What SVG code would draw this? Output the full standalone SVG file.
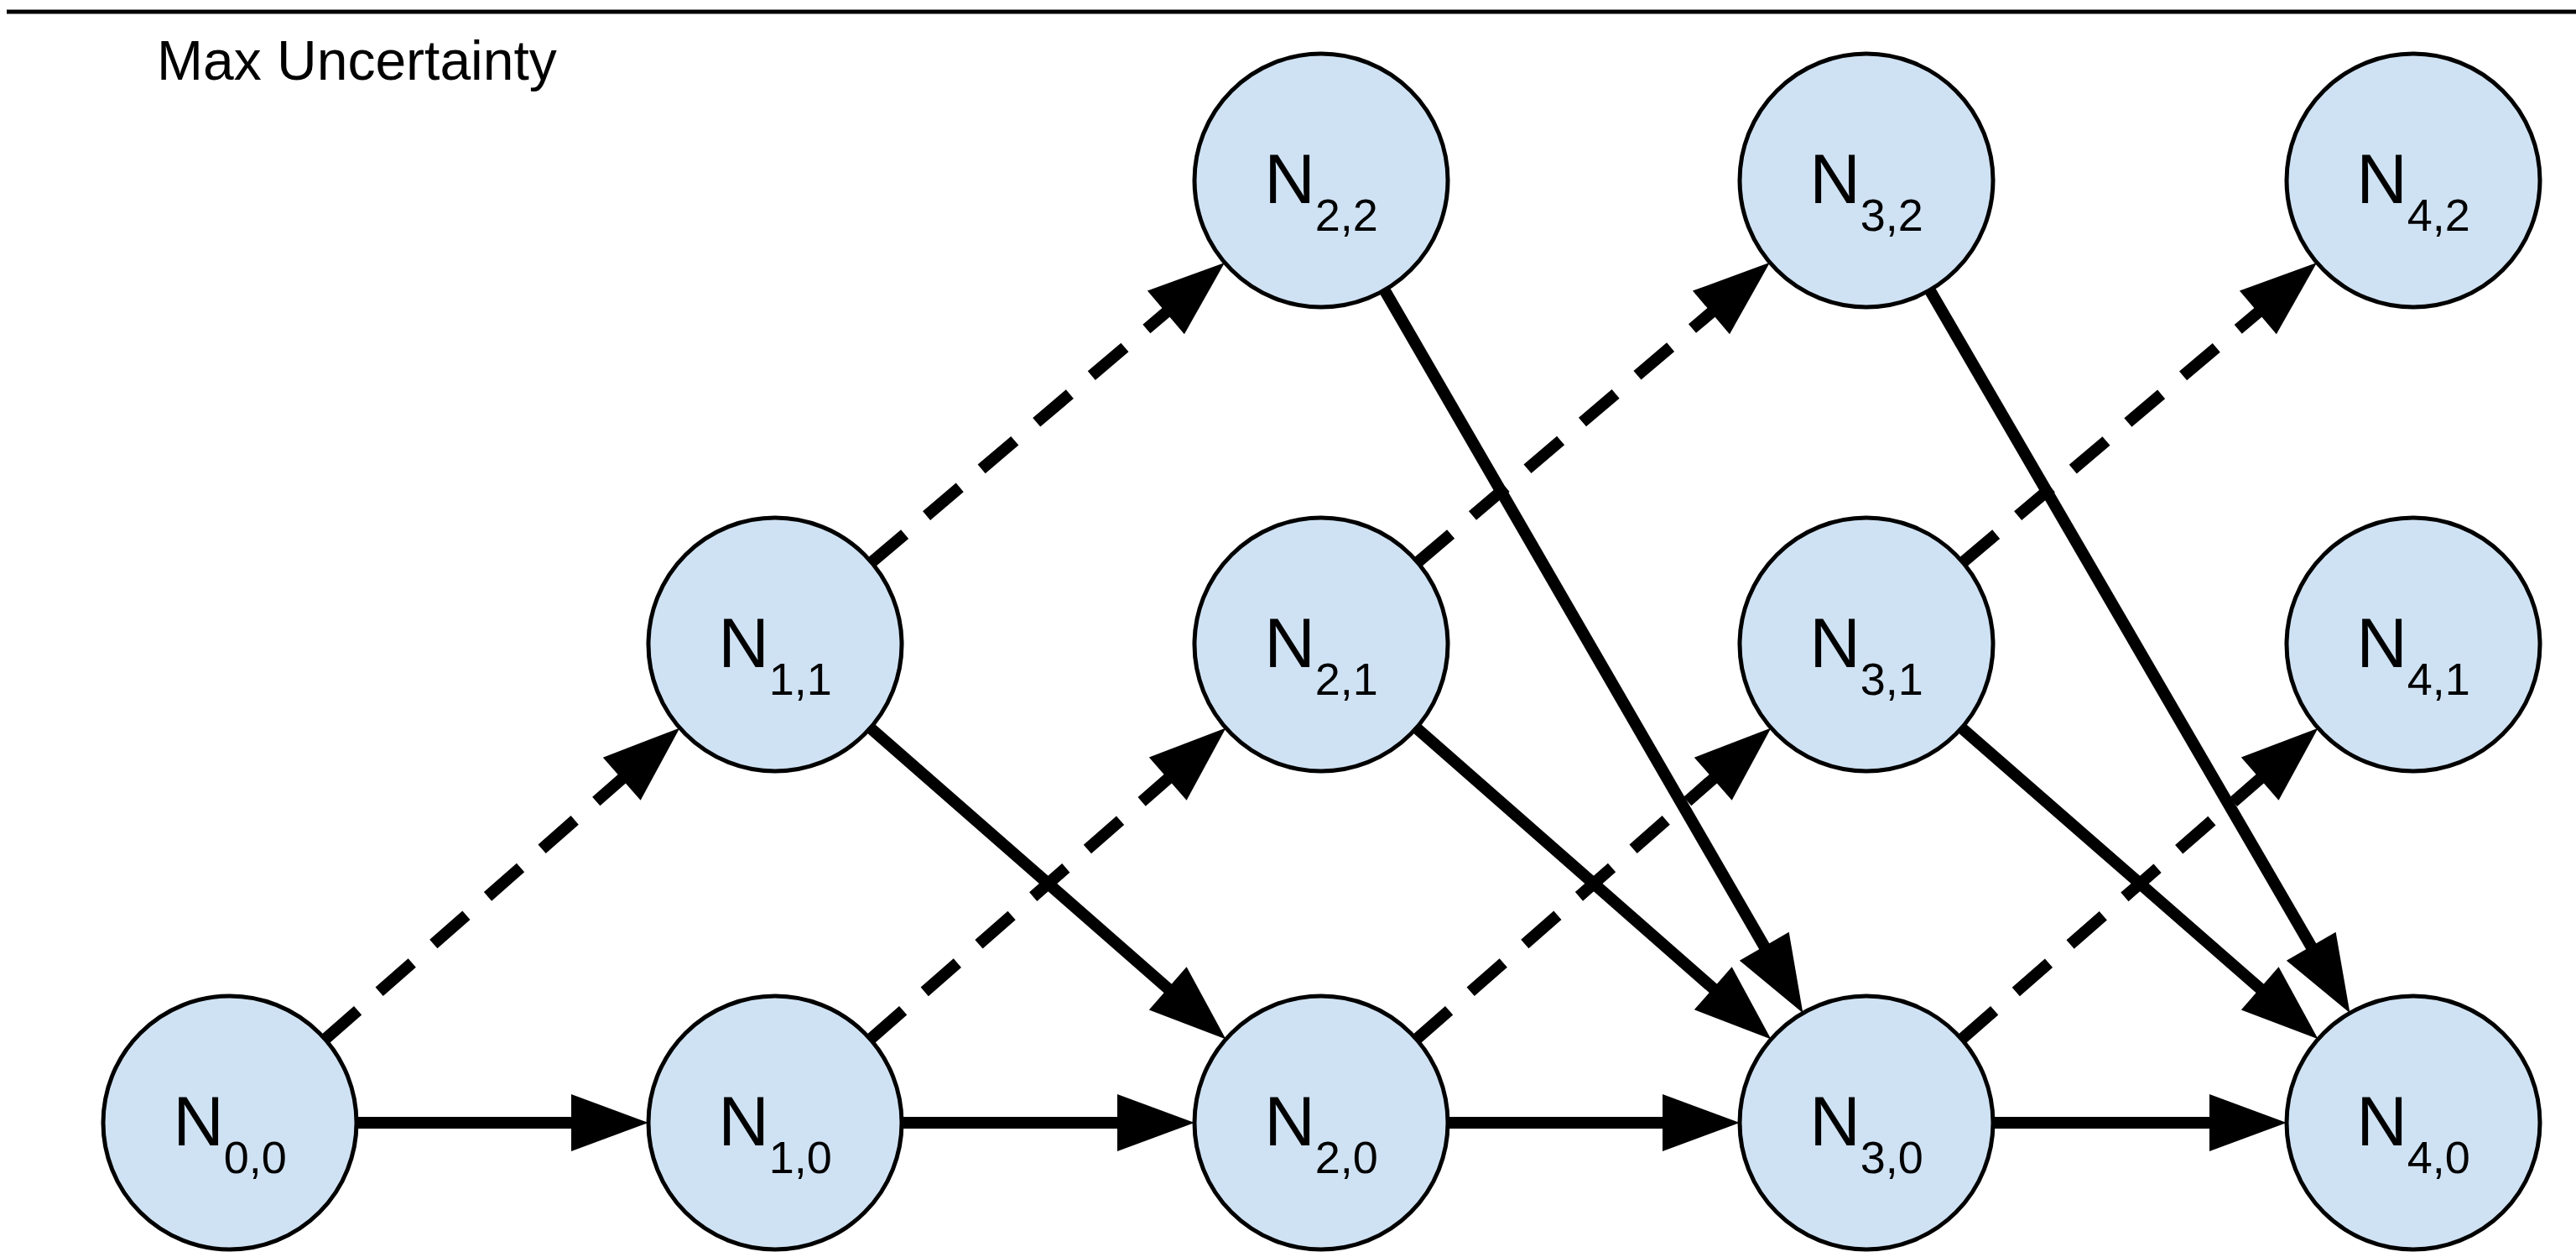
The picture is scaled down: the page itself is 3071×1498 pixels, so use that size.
<svg xmlns="http://www.w3.org/2000/svg" width="3071" height="1498" viewBox="0 0 3071 1498">
<style>
.n{fill:#cfe2f3;stroke:#000;stroke-width:5}
.t{font-family:"Liberation Sans",Arial,sans-serif;font-size:84px;fill:#000;text-anchor:middle}
.s{font-size:54px}
.e{stroke:#000;stroke-width:14;fill:none;marker-end:url(#a)}
.d{stroke-dasharray:52 34}
</style>
<defs>
<marker id="a" markerUnits="userSpaceOnUse" markerWidth="92" markerHeight="68" refX="32" refY="34" orient="auto" overflow="visible">
<path d="M0,0 L92,34 L0,68 z" fill="#000"/>
</marker>
</defs>
<rect width="3071" height="1498" fill="#fff"/>
<line x1="8" y1="14" x2="3071" y2="14" stroke="#000" stroke-width="5"/>
<text x="187" y="95" font-family="Liberation Sans,Arial,sans-serif" font-size="66">Max Uncertainty</text>
<g id="connectors">
<line class="e" x1="425" y1="1338" x2="713" y2="1338"/>
<line class="e" x1="1075" y1="1338" x2="1364" y2="1338"/>
<line class="e" x1="1726" y1="1338" x2="2014" y2="1338"/>
<line class="e" x1="2376" y1="1338" x2="2666" y2="1338"/>
<line class="e d" x1="387.5" y1="1238.5" x2="765.3" y2="907.1"/>
<line class="e d" x1="1037.5" y1="1238.5" x2="1416.3" y2="907.1"/>
<line class="e d" x1="1688.5" y1="1238.5" x2="2066.3" y2="907.1"/>
<line class="e d" x1="2338.5" y1="1238.5" x2="2718.3" y2="907.1"/>
<line class="e d" x1="1039" y1="670.2" x2="1414.3" y2="351.7"/>
<line class="e d" x1="1690" y1="670.2" x2="2064.3" y2="351.7"/>
<line class="e d" x1="2340" y1="670.2" x2="2716.3" y2="351.7"/>
<line class="e" x1="1037.5" y1="867.5" x2="1416.3" y2="1198.9"/>
<line class="e" x1="1688.5" y1="867.5" x2="2066.3" y2="1198.9"/>
<line class="e" x1="2338.5" y1="867.5" x2="2718.3" y2="1198.9"/>
<line class="e" x1="1650.6" y1="345.7" x2="2119.3" y2="1155.4"/>
<line class="e" x1="2300.6" y1="345.7" x2="2771.3" y2="1155.4"/>
</g>
<g id="n00"><circle class="n" cx="274" cy="1338" r="151"/><text class="t" x="274" y="1365">N<tspan class="s" dy="33">0,0</tspan></text></g>
<g id="n10"><circle class="n" cx="924" cy="1338" r="151"/><text class="t" x="924" y="1365">N<tspan class="s" dy="33">1,0</tspan></text></g>
<g id="n11"><circle class="n" cx="924" cy="768" r="151"/><text class="t" x="924" y="795">N<tspan class="s" dy="33">1,1</tspan></text></g>
<g id="n20"><circle class="n" cx="1575" cy="1338" r="151"/><text class="t" x="1575" y="1365">N<tspan class="s" dy="33">2,0</tspan></text></g>
<g id="n21"><circle class="n" cx="1575" cy="768" r="151"/><text class="t" x="1575" y="795">N<tspan class="s" dy="33">2,1</tspan></text></g>
<g id="n22"><circle class="n" cx="1575" cy="215" r="151"/><text class="t" x="1575" y="242">N<tspan class="s" dy="33">2,2</tspan></text></g>
<g id="n30"><circle class="n" cx="2225" cy="1338" r="151"/><text class="t" x="2225" y="1365">N<tspan class="s" dy="33">3,0</tspan></text></g>
<g id="n31"><circle class="n" cx="2225" cy="768" r="151"/><text class="t" x="2225" y="795">N<tspan class="s" dy="33">3,1</tspan></text></g>
<g id="n32"><circle class="n" cx="2225" cy="215" r="151"/><text class="t" x="2225" y="242">N<tspan class="s" dy="33">3,2</tspan></text></g>
<g id="n40"><circle class="n" cx="2877" cy="1338" r="151"/><text class="t" x="2877" y="1365">N<tspan class="s" dy="33">4,0</tspan></text></g>
<g id="n41"><circle class="n" cx="2877" cy="768" r="151"/><text class="t" x="2877" y="795">N<tspan class="s" dy="33">4,1</tspan></text></g>
<g id="n42"><circle class="n" cx="2877" cy="215" r="151"/><text class="t" x="2877" y="242">N<tspan class="s" dy="33">4,2</tspan></text></g>
</svg>
